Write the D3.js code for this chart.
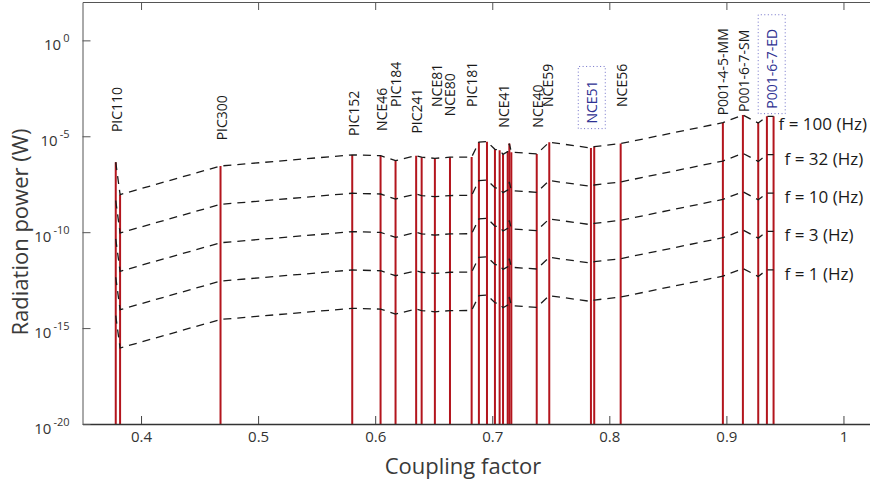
<!DOCTYPE html>
<html>
<head>
<meta charset="utf-8">
<script src="https://cdn.jsdelivr.net/npm/d3@7"></script>
<style>
  body { margin: 0; background: #fff; }
  svg { display: block; font-family: "Open Sans", sans-serif; }
</style>
</head>
<body>
<div id="chart"></div>
<script>
// coupling factor of every measured sample (one red bar each)
const coupling = [0.3784, 0.3821, 0.4679, 0.5804, 0.6046, 0.6174, 0.6350, 0.6397, 0.6510, 0.6639,
    0.6824, 0.6886, 0.6955, 0.7023, 0.7063, 0.7092, 0.7132, 0.7146, 0.7163, 0.7380,
    0.7487, 0.7843, 0.7871, 0.8097, 0.8970, 0.9141, 0.9272, 0.9346, 0.9403];

// log10 of radiation power (W), one list per frequency
const power100 = [-6.35, -8.04, -6.55, -5.97, -6.01, -6.27, -6.01, -6.09, -6.15, -6.09,
    -6.08, -5.31, -5.28, -5.68, -5.73, -5.94, -5.80, -5.38, -5.83, -5.92,
    -5.31, -5.61, -5.54, -5.38, -4.29, -3.89, -4.31, -3.96, -3.96];
const power32 = [-8.35, -10.04, -8.55, -7.97, -8.01, -8.27, -8.01, -8.09, -8.15, -8.09,
    -8.08, -7.31, -7.28, -7.68, -7.73, -7.94, -7.80, -7.38, -7.83, -7.92,
    -7.31, -7.61, -7.54, -7.38, -6.29, -5.89, -6.31, -5.96, -5.96];
const power10 = [-10.35, -12.04, -10.55, -9.97, -10.01, -10.27, -10.01, -10.09, -10.15, -10.09,
    -10.08, -9.31, -9.28, -9.68, -9.73, -9.94, -9.80, -9.38, -9.83, -9.92,
    -9.31, -9.61, -9.54, -9.38, -8.29, -7.89, -8.31, -7.96, -7.96];
const power3 = [-12.35, -14.04, -12.55, -11.97, -12.01, -12.27, -12.01, -12.09, -12.15, -12.09,
    -12.08, -11.31, -11.28, -11.68, -11.73, -11.94, -11.80, -11.38, -11.83, -11.92,
    -11.31, -11.61, -11.54, -11.38, -10.29, -9.89, -10.31, -9.96, -9.96];
const power1 = [-14.35, -16.04, -14.55, -13.97, -14.01, -14.27, -14.01, -14.09, -14.15, -14.09,
    -14.08, -13.31, -13.28, -13.68, -13.73, -13.94, -13.80, -13.38, -13.83, -13.92,
    -13.31, -13.61, -13.54, -13.38, -12.29, -11.89, -12.31, -11.96, -11.96];

const freqLabels = ["f = 100 (Hz)", "f = 32 (Hz)", "f = 10 (Hz)", "f = 3 (Hz)", "f = 1 (Hz)"];
const series = [power100, power32, power10, power3, power1];

// material names, their coupling factor and log10 power where the label starts
const materials = ["PIC110", "PIC300", "PIC152", "NCE46", "PIC184", "PIC241", "NCE81", "NCE80", "PIC181",
    "NCE41", "NCE40", "NCE59", "NCE51", "NCE56", "P001-4-5-MM", "P001-6-7-SM", "P001-6-7-ED"];
const materialK = [0.3792, 0.4694, 0.5819, 0.6061, 0.6178, 0.6354, 0.6525, 0.6639, 0.6829,
    0.7100, 0.7393, 0.7478, 0.7854, 0.8105, 0.8973, 0.9152, 0.9391];
const materialLevel = [-4.78, -5.21, -4.98, -4.72, -3.47, -4.86, -3.47, -3.96, -3.47,
    -4.55, -4.55, -3.47, -4.34, -3.47, -3.91, -3.73, -3.56];
const highlighted = ["NCE51", "P001-6-7-ED"];

const xTicks = [0.4, 0.5, 0.6, 0.7, 0.8, 0.9, 1];
const yTicks = [0, -5, -10, -15, -20];

const width = 870, height = 491;
const mLeft = 82.5, mRight = 902, mTop = 2, mBottom = 424;

const svg = d3.select("#chart").append("svg")
    .attr("width", width)
    .attr("height", height);

const x = d3.scaleLinear().domain([0.35, 1.05]).range([mLeft, mRight]);
const y = d3.scaleLog().domain([1e-20, 1e2]).range([mBottom, mTop]);

// red bars from the floor up to the 100 Hz level
svg.append("g").selectAll("line")
    .data(coupling)
    .join("line")
    .attr("x1", d => x(d)).attr("x2", d => x(d))
    .attr("y1", y(1e-20))
    .attr("y2", (d, i) => y(Math.pow(10, power100[i])))
    .attr("stroke", "#b3151d")
    .attr("stroke-width", 2);

// dashed curves, one per frequency
const line = d3.line()
    .x((d, i) => x(coupling[i]))
    .y(d => y(Math.pow(10, d)));

svg.append("g").selectAll("path")
    .data(series)
    .join("path")
    .attr("d", line)
    .attr("fill", "none")
    .attr("stroke", "#1a1a1a")
    .attr("stroke-width", 1.3)
    .attr("stroke-dasharray", "8,6");

// frequency labels at the right end of each curve
const last = coupling.length - 1;
svg.append("g").selectAll("text")
    .data(series)
    .join("text")
    .attr("x", (d, i) => x(coupling[last]) + (i === 0 ? 5 : 11))
    .attr("y", (d, i) => y(Math.pow(10, d[last])) + (i === 0 ? 8 : 4))
    .attr("dy", "0.35em")
    .attr("font-size", 17)
    .attr("fill", "#1a1a1a")
    .text((d, i) => freqLabels[i]);

// material labels, rotated
const labels = svg.append("g").selectAll("g")
    .data(materials)
    .join("g")
    .attr("transform", (d, i) => `translate(${x(materialK[i])},${y(Math.pow(10, materialLevel[i]))}) rotate(-90)`);

labels.append("text")
    .attr("dy", "0.36em")
    .attr("font-size", 14)
    .attr("fill", d => highlighted.includes(d) ? "#2e3192" : "#1a1a1a")
    .text(d => d);

labels.filter(d => highlighted.includes(d)).each(function () {
    const g = d3.select(this);
    const bb = g.select("text").node().getBBox();
    g.insert("rect", "text")
        .attr("x", bb.x - 5)
        .attr("y", bb.y - 4)
        .attr("width", bb.width + 19)
        .attr("height", bb.height + 8)
        .attr("fill", "none")
        .attr("stroke", "#6f6fc8")
        .attr("stroke-width", 1)
        .attr("stroke-dasharray", "1,2.5");
});

// axes
svg.append("g")
    .attr("transform", `translate(0,${mBottom})`)
    .call(d3.axisBottom(x).tickValues(xTicks).tickFormat(d3.format("~g"))
        .tickSizeInner(-8).tickSizeOuter(0).tickPadding(7))
    .call(g => g.select(".domain").attr("stroke", "#333").attr("stroke-width", 1.6))
    .call(g => g.selectAll(".tick line").attr("stroke", "#444"))
    .call(g => g.selectAll(".tick text").attr("font-size", 15).attr("fill", "#333")
        .attr("font-family", "Open Sans, sans-serif"));

svg.append("g")
    .attr("transform", `translate(0,${mTop})`)
    .call(d3.axisTop(x).tickValues(xTicks).tickFormat("").tickSizeInner(-8).tickSizeOuter(0))
    .call(g => g.select(".domain").attr("stroke", "#555"))
    .call(g => g.selectAll(".tick line").attr("stroke", "#555"));

svg.append("g")
    .attr("transform", `translate(${mLeft},0)`)
    .call(d3.axisLeft(y).tickValues(yTicks.map(e => Math.pow(10, e))).tickFormat("")
        .tickSizeInner(-8).tickSizeOuter(0))
    .call(g => g.select(".domain").attr("stroke", "#555"))
    .call(g => g.selectAll(".tick line").attr("stroke", "#555"));

const yLab = svg.append("g").selectAll("text")
    .data(yTicks)
    .join("text")
    .attr("x", mLeft - 13)
    .attr("y", d => y(Math.pow(10, d)) + 4)
    .attr("dy", "0.35em")
    .attr("text-anchor", "end")
    .attr("fill", "#333");
yLab.append("tspan").attr("font-size", 15).text("10");
yLab.append("tspan").attr("font-size", 11).attr("dy", -8).attr("dx", 2).text(d => d === 0 ? "0" : "-" + (-d));

// axis titles
svg.append("text")
    .attr("x", 463)
    .attr("y", 466)
    .attr("dy", "0.35em")
    .attr("text-anchor", "middle")
    .attr("font-size", 22)
    .attr("fill", "#3a3a3a")
    .text("Coupling factor");

svg.append("text")
    .attr("transform", `translate(20,232) rotate(-90)`)
    .attr("dy", "0.35em")
    .attr("text-anchor", "middle")
    .attr("font-size", 22)
    .attr("fill", "#3a3a3a")
    .text("Radiation power (W)");
</script>
</body>
</html>
